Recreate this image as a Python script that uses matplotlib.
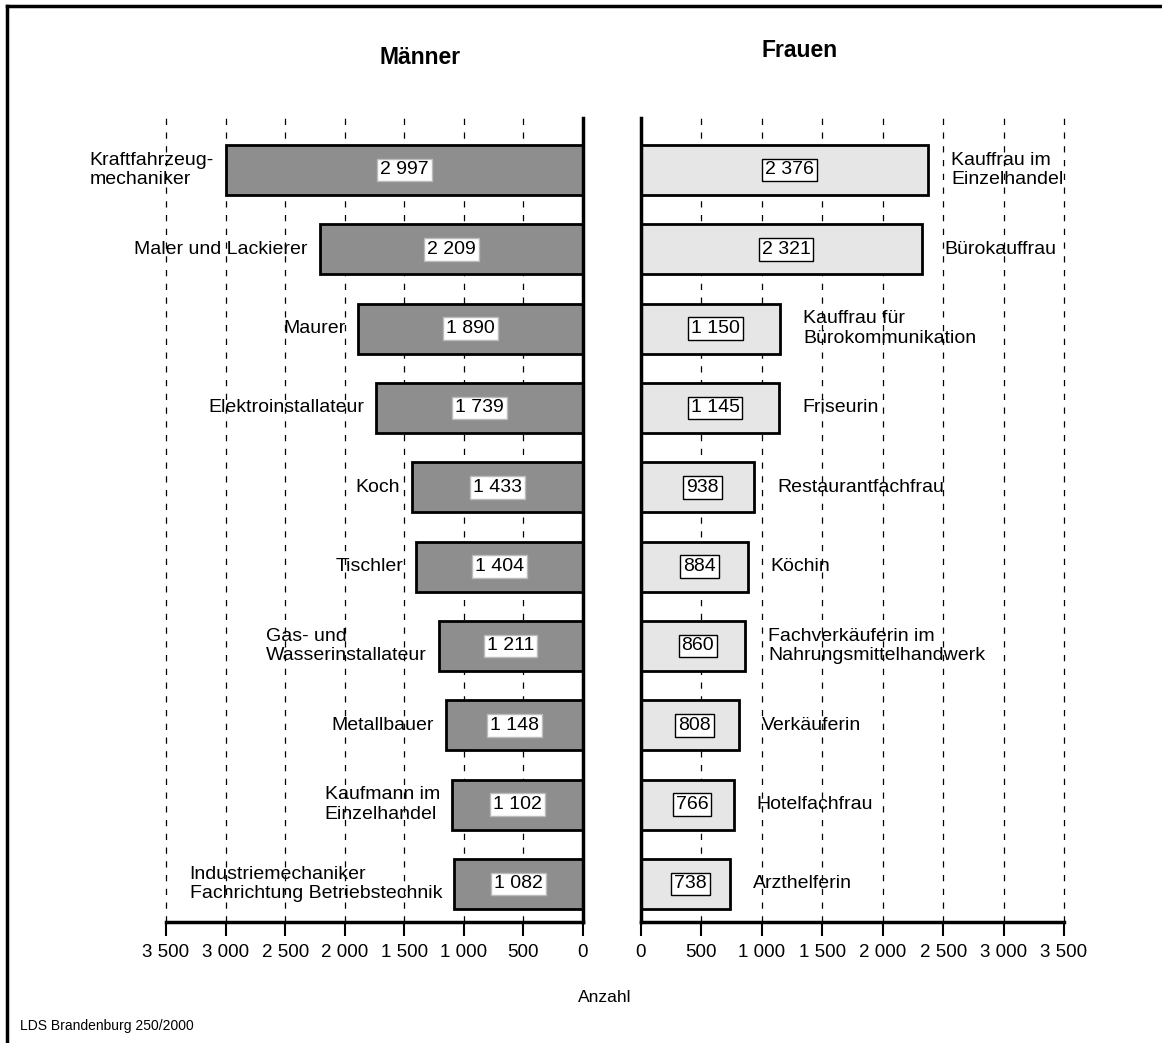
import numpy as np
import matplotlib
matplotlib.use("Agg")
import matplotlib.pyplot as plt
from matplotlib.lines import Line2D

plt.rcParams['font.family'] = ['Liberation Sans', 'DejaVu Sans']

# Daten
maenner_berufe = ["Kraftfahrzeug-\nmechaniker", "Maler und Lackierer", "Maurer",
                  "Elektroinstallateur", "Koch", "Tischler",
                  "Gas- und\nWasserinstallateur", "Metallbauer",
                  "Kaufmann im\nEinzelhandel",
                  "Industriemechaniker\nFachrichtung Betriebstechnik"]
maenner_werte = [2997, 2209, 1890, 1739, 1433, 1404, 1211, 1148, 1102, 1082]

frauen_berufe = ["Kauffrau im\nEinzelhandel", "Bürokauffrau",
                 "Kauffrau für\nBürokommunikation", "Friseurin",
                 "Restaurantfachfrau", "Köchin",
                 "Fachverkäuferin im\nNahrungsmittelhandwerk", "Verkäuferin",
                 "Hotelfachfrau", "Arzthelferin"]
frauen_werte = [2376, 2321, 1150, 1145, 938, 884, 860, 808, 766, 738]

x_ticks = [0, 500, 1000, 1500, 2000, 2500, 3000, 3500]


def fmt(v):
    return f"{v:,}".replace(",", " ")


fig = plt.figure(figsize=(11.62, 10.43), dpi=100)
W, H = 1162, 1043

ax_m = fig.add_axes([166 / W, 1 - 922 / H, 417 / W, 804 / H])
ax_f = fig.add_axes([641 / W, 1 - 922 / H, 423 / W, 804 / H])

y = np.arange(len(maenner_werte))

for ax in (ax_m, ax_f):
    ax.set_ylim(9.48, -0.655)
    ax.set_yticks([])
    for xt in x_ticks[1:]:
        ax.axvline(xt, color='black', lw=0.9, ls=(0, (5, 6)), zorder=0,
                   clip_on=False)
    ax.set_xticks(x_ticks)
    ax.set_xticklabels([fmt(v) for v in x_ticks], fontsize=13.5)
    ax.tick_params(axis='x', direction='out', length=10, width=1.5, pad=6)
    ax.spines['top'].set_visible(False)
    ax.spines['bottom'].set_linewidth(2.5)

# Männer
ax_m.set_xlim(3500, 0)
ax_m.spines['left'].set_visible(False)
ax_m.spines['right'].set_linewidth(2.5)
ax_m.barh(y, maenner_werte, height=0.63, color='#8e8e8e',
          edgecolor='black', linewidth=2, zorder=2)
for i, v in enumerate(maenner_werte):
    ax_m.text(v / 2, i, fmt(v), ha='center', va='center', fontsize=14,
              zorder=3,
              bbox=dict(boxstyle='square,pad=0.15', fc='white', ec='#bbbbbb', lw=1))
    ax_m.text(v + 100, i, maenner_berufe[i], ha='right', va='center',
              multialignment='left', fontsize=14, zorder=3)

# Frauen
ax_f.set_xlim(0, 3500)
ax_f.spines['right'].set_visible(False)
ax_f.spines['left'].set_linewidth(2.5)
ax_f.barh(y, frauen_werte, height=0.63, color='#e6e6e6',
          edgecolor='black', linewidth=2, zorder=2)
for i, v in enumerate(frauen_werte):
    ax_f.text(v / 2 + 40, i, fmt(v), ha='center', va='center', fontsize=14,
              zorder=3,
              bbox=dict(boxstyle='square,pad=0.15', fc='white', ec='black', lw=1))
    ax_f.text(v + 190, i, frauen_berufe[i], ha='left', va='center',
              multialignment='left', fontsize=14, zorder=3)

# Titel und Beschriftung
fig.text(420 / W, 1 - 57 / H, "Männer", ha='center', va='center',
         fontsize=16.5, fontweight='bold')
fig.text(800 / W, 1 - 50 / H, "Frauen", ha='center', va='center',
         fontsize=16.5, fontweight='bold')
fig.text(605 / W, 1 - 998 / H, "Anzahl", ha='center', va='center', fontsize=12.5)
fig.text(20 / W, 1 - 1026 / H, "LDS Brandenburg 250/2000", ha='left',
         va='center', fontsize=10)

# Rahmen (oben und links)
fig.add_artist(Line2D([7 / W, 1.0], [1 - 6 / H, 1 - 6 / H], color='black', lw=2.5))
fig.add_artist(Line2D([7 / W, 7 / W], [0, 1 - 6 / H], color='black', lw=2.5))

plt.savefig("out.png", dpi=100)
